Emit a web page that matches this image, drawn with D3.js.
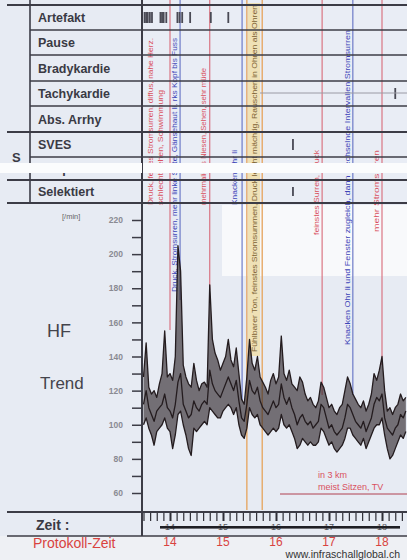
<!DOCTYPE html>
<html>
<head>
<meta charset="utf-8">
<script src="https://cdn.jsdelivr.net/npm/d3@7"></script>
<style>
  body { margin: 0; background: #e7ebf3; }
  svg { display: block; font-family: 'Liberation Sans', Arial, sans-serif; }
</style>
</head>
<body>
<svg id="chart" width="407" height="560"></svg>
<script>
// Holter page: event rows, protocol notes and HF trend

// Table rows
const rowLabels = ['Artefakt', 'Pause', 'Bradykardie', 'Tachykardie', 'Abs. Arrhy', 'SVES', 'Couplet', 'Selektiert'];

// Events per row (hours)
const artefaktTimes = [13.52, 13.55, 13.58, 13.62, 13.66, 13.82, 13.85, 13.88, 13.93, 14.14, 14.18, 14.23, 14.38, 14.77, 15.1];
const tachyTimes = [18.25];
const svesTimes = [16.32];
const selektTimes = [16.32];

// Protocol marks (hours) and their colour
const markTimes = [14.0, 14.19, 14.75, 15.36, 15.45, 15.74, 16.87, 17.45, 18.0];
const markKinds = ['red', 'blue', 'red', 'blue', 'orange', 'orange', 'red', 'blue', 'red'];

// Protocol notes
const noteTexts = [
  'Druck, feines Stromsurren, diffus, nahe Herz.',
  'schlecht sehen, Schwimmung',
  'Druck, Stromsurren, mehr linke Seite, Gänsehaut li. rks Kopf bis Fuss',
  'mehrmaliges Niesen, Sehen, sehr müde',
  'Knacken Ohr li',
  'Fühlbarer Ton, feinstes Stromsummen, Druck leicht mächtig, Rauschen in Ohren als Ohren',
  'feinstes Surren, Druck',
  'Knacken Ohr li und Fenster zugleich, dann wechselnde Intervallen Stromsurren',
  'mehr Stromsurren',
];
const noteKinds = ['red', 'red', 'blue', 'red', 'blue', 'tan', 'red', 'blue', 'red'];

// HF trend [/min], one value every 3 minutes from 13:30
const hfStart = 13.5;
const hfStep = 0.05;
const hfMax = [
  128, 148, 122, 118, 120, 116, 124, 130, 155, 128,
  130, 126, 140, 205, 190, 135, 128, 124, 122, 136,
  126, 120, 124, 125, 122, 182, 150, 142, 138, 132,
  136, 140, 150, 138, 134, 145, 130, 115, 112, 128,
  150, 136, 132, 140, 128, 125, 122, 118, 126, 130,
  124, 128, 152, 130, 126, 132, 124, 122, 120, 128,
  125, 118, 114, 116, 112, 110, 114, 125, 122, 116,
  110, 112, 108, 106, 110, 112, 120, 128, 124, 118,
  115, 112, 110, 114, 108, 112, 118, 130, 126, 132,
  140, 120, 108, 110, 106, 110, 112, 118, 114, 116,
];
const hfMid = [
  112, 120, 110, 106, 102, 108, 110, 112, 118, 110,
  108, 104, 112, 125, 130, 112, 108, 104, 106, 114,
  110, 108, 112, 114, 112, 132, 124, 120, 118, 116,
  120, 124, 128, 124, 120, 126, 114, 104, 102, 112,
  126, 120, 118, 122, 114, 110, 108, 106, 110, 114,
  110, 112, 124, 116, 112, 116, 110, 106, 100, 104,
  106, 102, 100, 102, 98, 100, 102, 112, 110, 104,
  98, 100, 96, 94, 96, 98, 104, 112, 110, 106,
  102, 100, 98, 102, 96, 100, 104, 112, 116, 114,
  118, 104, 98, 96, 94, 98, 100, 106, 104, 108,
];
const hfMin = [
  100, 104, 98, 94, 88, 96, 98, 100, 104, 98,
  96, 86, 94, 106, 108, 100, 94, 86, 82, 98,
  96, 98, 100, 102, 100, 110, 108, 106, 104, 104,
  108, 110, 112, 110, 106, 110, 100, 94, 92, 98,
  110, 106, 104, 106, 100, 98, 96, 94, 96, 98,
  96, 98, 106, 100, 98, 100, 96, 92, 86, 88,
  92, 90, 88, 90, 88, 88, 90, 98, 96, 92,
  88, 90, 86, 84, 86, 88, 92, 98, 98, 94,
  92, 90, 88, 92, 86, 90, 94, 98, 100, 100,
  104, 94, 86, 80, 82, 86, 90, 94, 92, 96,
];

const yMajor = [60, 80, 100, 120, 140, 160, 180, 200, 220];
const yMinor = [70, 90, 110, 130, 150, 170, 190, 210];
const hours = [14, 15, 16, 17, 18];

const svg = d3.select('#chart');
const W = 407;
const H = 560;

// Scales
const x = d3.scaleLinear().domain([14, 18]).range([170, 382]);
const y = d3.scaleLinear().domain([60, 220]).range([493, 220]);
const rowEdges = [5, 30, 55, 81, 106, 132, 157, 180, 203];

const colors = {
  red: '#d9505e',
  blue: '#3d45b8',
  orange: '#e3a464',
  tan: '#7d6234',
};
const lineColors = { red: '#d86a78', blue: '#6270c4', orange: '#e6a866' };

// Backgrounds
svg.append('rect').attr('width', W).attr('height', H).attr('fill', '#e7ebf3');
svg.append('rect').attr('x', 143).attr('y', 0).attr('width', W - 143).attr('height', 203).attr('fill', '#e9edf5');
svg.append('rect').attr('x', 222).attr('y', 205).attr('width', W - 222).attr('height', 71).attr('fill', '#f8f9fb');
svg.append('rect').attr('x', 0).attr('y', 536).attr('width', W).attr('height', 24).attr('fill', '#eef0f4');

// Tan band of the long note
svg.append('rect').attr('x', 248).attr('y', 3).attr('width', 12).attr('height', 353).attr('fill', '#efe1b6');

// Protocol lines
const lineEnds = [330, 300, 290, 400, 510, 510, 395, 395, 365];
svg
  .selectAll('.mark')
  .data(markTimes)
  .enter()
  .append('line')
  .attr('x1', (d) => x(d))
  .attr('x2', (d) => x(d))
  .attr('y1', 0)
  .attr('y2', (d, i) => lineEnds[i])
  .attr('stroke', (d, i) => lineColors[markKinds[i]])
  .attr('stroke-width', (d, i) => (markKinds[i] === 'orange' ? 1.4 : 1.1));

// Notes, rotated, bottom y and top y
const noteLayout = [
  { x: 153, y0: 205, y1: 38 },
  { x: 163, y0: 205, y1: 90 },
  { x: 177, y0: 292, y1: 38 },
  { x: 206, y0: 205, y1: 68 },
  { x: 237, y0: 205, y1: 150 },
  { x: 257, y0: 352, y1: 5 },
  { x: 319, y0: 235, y1: 150 },
  { x: 350, y0: 345, y1: 30 },
  { x: 379, y0: 232, y1: 150 },
];
svg
  .selectAll('.note')
  .data(noteTexts)
  .enter()
  .append('text')
  .attr('transform', (d, i) => `translate(${noteLayout[i].x},${noteLayout[i].y0}) rotate(-90)`)
  .attr('textLength', (d, i) => noteLayout[i].y0 - noteLayout[i].y1)
  .attr('lengthAdjust', 'spacingAndGlyphs')
  .attr('font-size', 8)
  .attr('fill', (d, i) => colors[noteKinds[i]])
  .text((d) => d);

// Event marks in the rows
function drawMarks(times, row, cls) {
  svg
    .selectAll('.' + cls)
    .data(times)
    .enter()
    .append('rect')
    .attr('x', (d) => x(d) - 0.9)
    .attr('y', rowEdges[row] + 7)
    .attr('width', 1.8)
    .attr('height', rowEdges[row + 1] - rowEdges[row] - 14)
    .attr('fill', '#4a4a55');
}
drawMarks(artefaktTimes, 0, 'art');
drawMarks(tachyTimes, 3, 'tachy');
drawMarks(svesTimes, 5, 'sves');
drawMarks(selektTimes, 7, 'sel');
svg.append('line').attr('x1', 260).attr('x2', W).attr('y1', 93).attr('y2', 93).attr('stroke', '#9a9aa4').attr('stroke-width', 1);

// HF trend: band between min and max, then the three curves
const hfArea = d3
  .area()
  .x((d, i) => x(hfStart + i * hfStep))
  .y0((d, i) => y(hfMin[i]))
  .y1((d, i) => y(hfMax[i]));
svg.append('path').datum(hfMax).attr('d', hfArea).attr('fill', '#2b2326').attr('opacity', 0.62);

const hfLine = d3
  .line()
  .x((d, i) => x(hfStart + i * hfStep))
  .y((d) => y(d));
[hfMax, hfMin, hfMid].forEach((series) => {
  svg
    .append('path')
    .datum(series)
    .attr('d', hfLine)
    .attr('fill', 'none')
    .attr('stroke', '#241c1f')
    .attr('stroke-width', 1.3)
    .attr('stroke-linejoin', 'round');
});

// Note under the trend
svg.append('line').attr('x1', 280).attr('x2', W).attr('y1', 494).attr('y2', 494).attr('stroke', '#b04050').attr('stroke-width', 1);
svg.append('text').attr('x', 318).attr('y', 478).attr('font-size', 9).attr('fill', colors.red).text('in 3 km');
svg.append('text').attr('x', 318).attr('y', 490).attr('font-size', 9).attr('fill', colors.red).text('meist Sitzen, TV');

// White band across the hidden row
svg.append('rect').attr('x', 0).attr('y', 163).attr('width', W).attr('height', 10).attr('fill', '#fbfcfd');

// Table grid
const gridColor = '#3c3c46';
rowEdges.forEach((e, i) => {
  const full = i === 0 || i === 5 || i === 7 || i === 8;
  svg
    .append('line')
    .attr('x1', full ? 7 : 30)
    .attr('x2', W)
    .attr('y1', e)
    .attr('y2', e)
    .attr('stroke', gridColor)
    .attr('stroke-width', full ? 2 : 1.5);
});
svg.append('line').attr('x1', 30).attr('x2', 30).attr('y1', 0).attr('y2', 203).attr('stroke', gridColor).attr('stroke-width', 1.6);
svg.append('line').attr('x1', 142).attr('x2', 142).attr('y1', 0).attr('y2', 536).attr('stroke', gridColor).attr('stroke-width', 2);
svg.append('line').attr('x1', 7).attr('x2', W).attr('y1', 512).attr('y2', 512).attr('stroke', gridColor).attr('stroke-width', 2);
svg.append('line').attr('x1', 7).attr('x2', W).attr('y1', 536).attr('y2', 536).attr('stroke', gridColor).attr('stroke-width', 1.6);

// Row labels
svg
  .selectAll('.rowlabel')
  .data(rowLabels)
  .enter()
  .append('text')
  .attr('x', 38)
  .attr('y', (d, i) => (rowEdges[i] + rowEdges[i + 1]) / 2 + 4.5)
  .attr('font-size', 12.5)
  .attr('font-weight', 'bold')
  .attr('fill', '#3a3a44')
  .text((d) => d);
svg.append('rect').attr('x', 0).attr('y', 163).attr('width', 142).attr('height', 10).attr('fill', '#fbfcfd');
svg.append('text').attr('x', 12).attr('y', 162).attr('font-size', 13).attr('font-weight', 'bold').attr('fill', '#3a3a44').text('S');

// Y axis
const yMinorAxis = d3.axisLeft(y).tickValues(yMinor).tickSize(10).tickFormat('');
const yMajorAxis = d3.axisLeft(y).tickValues(yMajor).tickSize(10).tickPadding(9);
[yMinorAxis, yMajorAxis].forEach((ax) => {
  const g = svg.append('g').attr('transform', 'translate(142,0)').call(ax);
  g.select('.domain').remove();
  g.selectAll('.tick line').attr('stroke', gridColor).attr('stroke-width', 1.5);
  g.selectAll('.tick text')
    .attr('fill', '#8a8a92')
    .attr('font-size', 8.5)
    .attr('font-weight', 'bold')
    .attr('font-family', "'Liberation Sans', Arial, sans-serif");
});
svg.append('text').attr('x', 62).attr('y', 219).attr('font-size', 7.5).attr('fill', '#666').text('[/min]');
svg.append('text').attr('x', 47).attr('y', 337).attr('font-size', 18).attr('fill', '#44444c').text('HF');
svg.append('text').attr('x', 40).attr('y', 389).attr('font-size', 17).attr('fill', '#44444c').text('Trend');

// Zeit axis
const zeitAxis = d3.axisBottom(x).tickValues(d3.range(13.5, 18.51, 0.125)).tickSize(8).tickFormat('');
const zg = svg.append('g').attr('transform', 'translate(0,513)').call(zeitAxis);
zg.select('.domain').remove();
zg.selectAll('.tick line').attr('stroke', '#2e2e36').attr('stroke-width', (d) => (Number.isInteger(d) ? 2 : 1.2));
svg
  .selectAll('.zeitlabel')
  .data(hours)
  .enter()
  .append('text')
  .attr('x', (d) => x(d))
  .attr('y', 530)
  .attr('text-anchor', 'middle')
  .attr('font-size', 9)
  .attr('fill', '#55555d')
  .text((d) => d);
svg.append('rect').attr('x', 160).attr('y', 526).attr('width', 240).attr('height', 2.6).attr('fill', '#1e1e24');
svg.append('text').attr('x', 36).attr('y', 530).attr('font-size', 14).attr('font-weight', 'bold').attr('fill', '#3a3a44').text('Zeit :');

// Protokoll-Zeit row
svg.append('text').attr('x', 33).attr('y', 548).attr('font-size', 14).attr('fill', '#d9433f').text('Protokoll-Zeit');
svg
  .selectAll('.protlabel')
  .data(hours)
  .enter()
  .append('text')
  .attr('x', (d) => x(d))
  .attr('y', 546)
  .attr('text-anchor', 'middle')
  .attr('font-size', 12)
  .attr('fill', '#d9433f')
  .text((d) => d);
svg.append('text').attr('x', 400).attr('y', 558).attr('text-anchor', 'end').attr('font-size', 10.5).attr('fill', '#333').text('www.infraschallglobal.ch');
</script>
</body>
</html>
